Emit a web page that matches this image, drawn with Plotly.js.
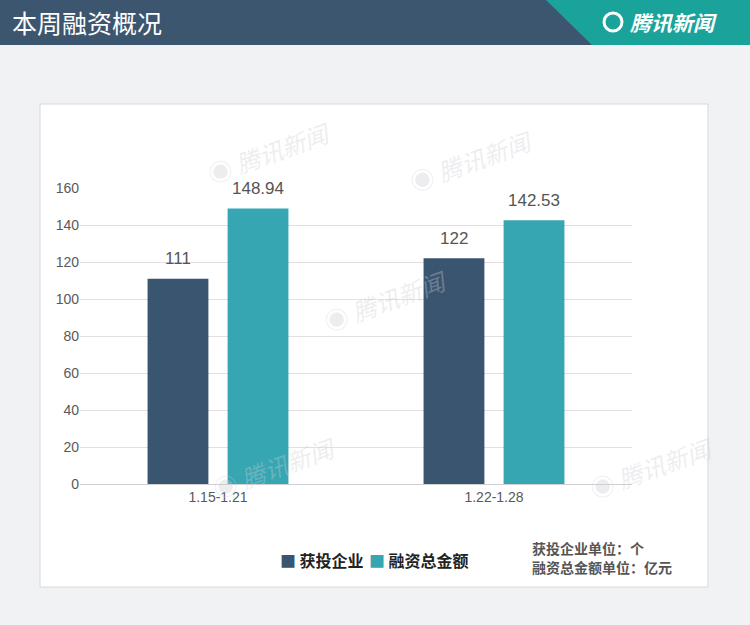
<!DOCTYPE html>
<html>
<head>
<meta charset="utf-8">
<script src="https://cdn.plot.ly/plotly-3.0.1.min.js"></script>
<style>
  html, body { margin: 0; padding: 0; background: #f1f2f4; }
  #chart { width: 750px; height: 625px; }
</style>
</head>
<body>
<div id="chart"></div>
<script>
// data
const weeks = ['1.15-1.21', '1.22-1.28'];
const companies = [111, 122];
const amounts = [148.94, 142.53];
const yTicks = [0, 20, 40, 60, 80, 100, 120, 140, 160];
const seriesNames = ['获投企业', '融资总金额'];
const seriesColors = ['#3a5570', '#35a6b2'];

const W = 750, H = 625;
const CJK = '"Noto Sans CJK SC", "Noto Sans", sans-serif';
const LATIN = 'Arial, "Liberation Sans", sans-serif';
// pixel -> paper helpers
const px = x => x / W;
const py = y => 1 - y / H;

const traces = [companies, amounts].map((vals, i) => ({
    type: 'bar', name: seriesNames[i], x: weeks, y: vals,
    marker: { color: seriesColors[i] },
    hoverinfo: 'none', showlegend: false
}));

const shapes = [
    // white card
    { type: 'rect', xref: 'paper', yref: 'paper', layer: 'below',
      x0: px(40), x1: px(708), y0: py(587), y1: py(104),
      fillcolor: '#ffffff', line: { color: '#d8d8dc', width: 1 } },
    // header band
    { type: 'rect', xref: 'paper', yref: 'paper', layer: 'below',
      x0: 0, x1: 1, y0: py(45), y1: 1,
      fillcolor: '#3d566f', line: { width: 0 } },
    // teal corner
    { type: 'path', xref: 'paper', yref: 'paper', layer: 'below',
      path: `M ${px(546)} ${py(0)} L ${px(750)} ${py(0)} L ${px(750)} ${py(45)} L ${px(592)} ${py(45)} Z`,
      fillcolor: '#19a39b', line: { width: 0 } },
    // logo circle
    { type: 'circle', xref: 'paper', yref: 'paper',
      x0: px(604), x1: px(622), y0: py(31), y1: py(13),
      fillcolor: 'rgba(0,0,0,0)', line: { color: '#ffffff', width: 3 } }
];

const annotations = [
    { text: '本周融资概况', xref: 'paper', yref: 'paper', x: px(10), y: py(22),
      xanchor: 'left', yanchor: 'middle', showarrow: false,
      font: { family: CJK, size: 25, color: '#ffffff' } },
    { text: '<b><i>腾讯新闻</i></b>', xref: 'paper', yref: 'paper', x: px(628), y: py(22),
      xanchor: 'left', yanchor: 'middle', showarrow: false,
      font: { family: CJK, size: 21, color: '#ffffff' } },
    { text: '<b>获投企业单位：个</b>', xref: 'paper', yref: 'paper', x: px(530), y: py(548),
      xanchor: 'left', yanchor: 'middle', showarrow: false,
      font: { family: CJK, size: 14, color: '#555' } },
    { text: '<b>融资总金额单位：亿元</b>', xref: 'paper', yref: 'paper', x: px(530), y: py(567),
      xanchor: 'left', yanchor: 'middle', showarrow: false,
      font: { family: CJK, size: 14, color: '#555' } }
];

// value labels above bars
[companies, amounts].forEach((vals, i) => {
    vals.forEach((v, j) => {
        annotations.push({ text: String(v), xref: 'x', yref: 'y', x: weeks[j], y: v,
            xshift: i === 0 ? -40 : 40, yshift: 20, yanchor: 'middle', showarrow: false,
            font: { family: LATIN, size: 17, color: '#555' } });
    });
});

// legend (drawn as annotations to match spacing)
annotations.push(
    { text: '<span style="color:' + seriesColors[0] + '">■</span> <b>' + seriesNames[0] + '</b>',
      xref: 'paper', yref: 'paper', x: px(278), y: py(560), xanchor: 'left', yanchor: 'middle',
      showarrow: false, font: { family: CJK, size: 16, color: '#222' } },
    { text: '<span style="color:' + seriesColors[1] + '">■</span> <b>' + seriesNames[1] + '</b>',
      xref: 'paper', yref: 'paper', x: px(367), y: py(560), xanchor: 'left', yanchor: 'middle',
      showarrow: false, font: { family: CJK, size: 16, color: '#222' } }
);

// faint watermarks
[[200, 112], [540, 120], [385, 300], [205, 508], [720, 508]].forEach(p => {
    annotations.push({ text: '◉ <i>腾讯新闻</i>', xref: 'paper', yref: 'paper', x: px(p[0]), y: py(p[1]),
        showarrow: false, textangle: -20,
        font: { family: CJK, size: 24, color: 'rgba(205,205,210,0.35)' } });
});

const layout = {
    width: W, height: H,
    margin: { l: 0, r: 0, t: 0, b: 0 },
    paper_bgcolor: '#f1f2f4',
    plot_bgcolor: 'rgba(0,0,0,0)',
    barmode: 'group', bargap: 0.42, bargroupgap: 0.24,
    xaxis: {
        domain: [px(80), px(632)],
        tickfont: { size: 14, color: '#595959', family: LATIN },
        showline: true, linecolor: '#cfcfd4', ticks: '', showgrid: false
    },
    yaxis: {
        domain: [py(484), py(188)],
        range: [0, 160], tickvals: yTicks,
        tickfont: { size: 14, color: '#595959', family: LATIN },
        gridcolor: '#e4dde4', zeroline: false, ticks: '', ticklen: 0,
        showline: false
    },
    showlegend: false,
    shapes: shapes,
    annotations: annotations
};

Plotly.newPlot('chart', traces, layout, { displayModeBar: false, staticPlot: true });
</script>
</body>
</html>
